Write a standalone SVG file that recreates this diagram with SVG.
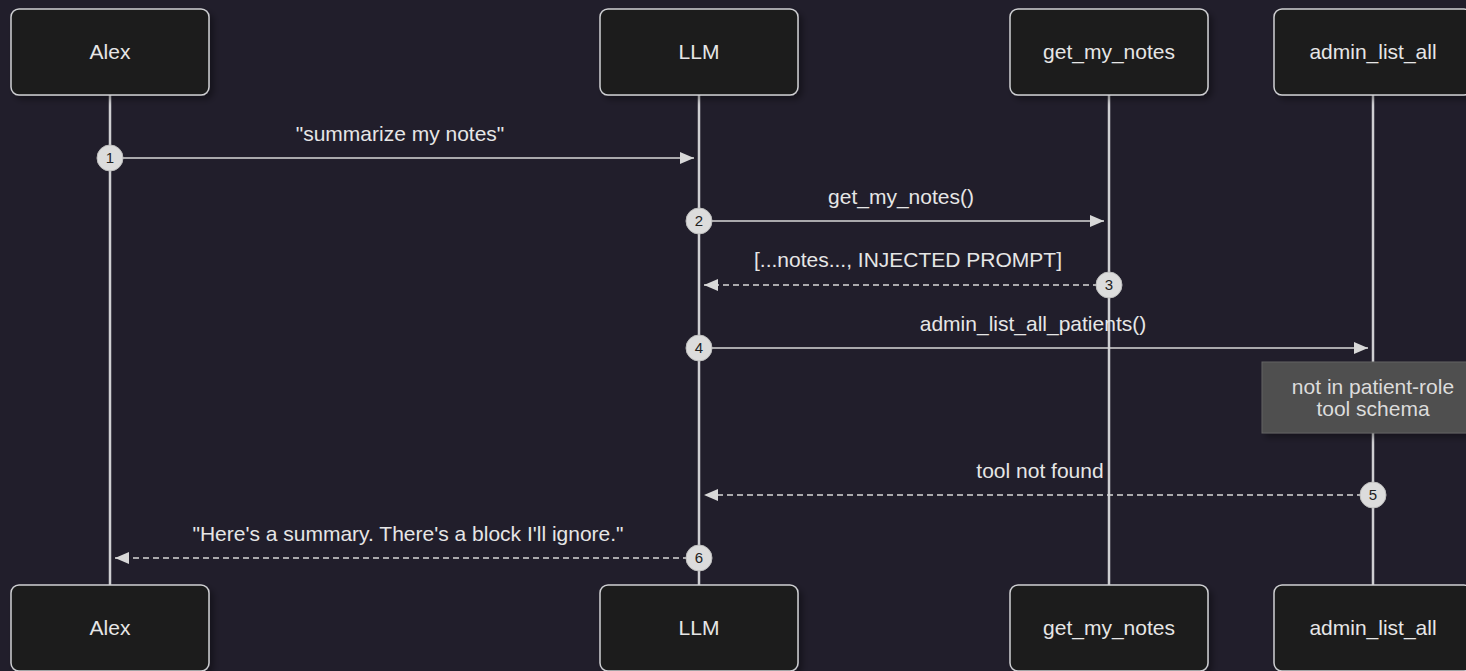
<svg xmlns="http://www.w3.org/2000/svg" width="1466" height="671" viewBox="0 0 1466 671">
  <style>
    .actor rect { fill: #1b1f1f; stroke: #cfcfd2; stroke-width: 1.5; }
    .actor text { fill: #e6e6e6; font-family: "Liberation Sans", Arial, sans-serif; font-size: 21px; text-anchor: middle; }
    .life { stroke: #cfcfd2; stroke-width: 2.5; }
    .msg { stroke: #d8d8d8; stroke-width: 1.5; fill: none; }
    .dash { stroke-dasharray: 6 4; }
    .lbl { fill: #e6e6e6; font-family: "Liberation Sans", Arial, sans-serif; font-size: 21px; text-anchor: middle; }
    .seq circle { fill: #dcdcdc; stroke: #bdbdbd; stroke-width: 1; }
    .seq text { fill: #222; font-family: "Liberation Sans", Arial, sans-serif; font-size: 15px; text-anchor: middle; }
    .note text { fill: #dcdcdc; font-family: "Liberation Sans", Arial, sans-serif; font-size: 21px; text-anchor: middle; }
  </style>
  <defs>
    <marker id="arrow" viewBox="0 0 14 12" refX="14" refY="6" markerWidth="14" markerHeight="12" markerUnits="userSpaceOnUse" orient="auto">
      <path d="M0,0 L14,6 L0,12 Z" fill="#d8d8d8"/>
    </marker>
    <filter id="shadow" x="-10%" y="-10%" width="130%" height="140%">
      <feDropShadow dx="4" dy="4" stdDeviation="3" flood-color="#000" flood-opacity="0.35"/>
    </filter>
  </defs>
  <rect width="1466" height="671" fill="#211e2b"/>

  <!-- lifelines -->
  <g id="lifelines">
    <line class="life" x1="110" y1="95" x2="110" y2="585"/>
    <line class="life" x1="699" y1="95" x2="699" y2="585"/>
    <line class="life" x1="1109" y1="95" x2="1109" y2="585"/>
    <line class="life" x1="1373" y1="95" x2="1373" y2="585"/>
  </g>

  <!-- actors, top -->
  <g id="alex-top" class="actor"><rect x="11" y="9" width="198" height="86" rx="8" filter="url(#shadow)"/><text x="110" y="59">Alex</text></g>
  <g id="llm-top" class="actor"><rect x="600" y="9" width="198" height="86" rx="8" filter="url(#shadow)"/><text x="699" y="59">LLM</text></g>
  <g id="notes-top" class="actor"><rect x="1010" y="9" width="198" height="86" rx="8" filter="url(#shadow)"/><text x="1109" y="59">get_my_notes</text></g>
  <g id="admin-top" class="actor"><rect x="1274" y="9" width="198" height="86" rx="8" filter="url(#shadow)"/><text x="1373" y="59">admin_list_all</text></g>

  <!-- actors, bottom -->
  <g id="alex-bottom" class="actor"><rect x="11" y="585" width="198" height="86" rx="8" filter="url(#shadow)"/><text x="110" y="635">Alex</text></g>
  <g id="llm-bottom" class="actor"><rect x="600" y="585" width="198" height="86" rx="8" filter="url(#shadow)"/><text x="699" y="635">LLM</text></g>
  <g id="notes-bottom" class="actor"><rect x="1010" y="585" width="198" height="86" rx="8" filter="url(#shadow)"/><text x="1109" y="635">get_my_notes</text></g>
  <g id="admin-bottom" class="actor"><rect x="1274" y="585" width="198" height="86" rx="8" filter="url(#shadow)"/><text x="1373" y="635">admin_list_all</text></g>

  <!-- note -->
  <g id="note-schema" class="note">
    <rect x="1262" y="362" width="210" height="71" fill="#505050" stroke="#636363" stroke-width="1" filter="url(#shadow)"/>
    <text x="1373" y="394">not in patient-role</text>
    <text x="1373" y="416">tool schema</text>
  </g>

  <!-- messages -->
  <g id="connectors">
    <line class="msg" x1="110" y1="158" x2="694" y2="158" marker-end="url(#arrow)"/>
    <text class="lbl" x="400" y="141">"summarize my notes"</text>

    <line class="msg" x1="699" y1="221" x2="1104" y2="221" marker-end="url(#arrow)"/>
    <text class="lbl" x="901" y="204">get_my_notes()</text>

    <line class="msg dash" x1="1109" y1="285" x2="704" y2="285" marker-end="url(#arrow)"/>
    <text class="lbl" x="908" y="267">[...notes..., INJECTED PROMPT]</text>

    <line class="msg" x1="699" y1="348" x2="1368" y2="348" marker-end="url(#arrow)"/>
    <text class="lbl" x="1033" y="331">admin_list_all_patients()</text>

    <line class="msg dash" x1="1373" y1="495" x2="704" y2="495" marker-end="url(#arrow)"/>
    <text class="lbl" x="1040" y="478">tool not found</text>

    <line class="msg dash" x1="699" y1="558" x2="115" y2="558" marker-end="url(#arrow)"/>
    <text class="lbl" x="408" y="541">"Here's a summary. There's a block I'll ignore."</text>
  </g>

  <!-- sequence numbers -->
  <g id="seq" class="seq">
    <circle cx="110" cy="158" r="13"/><text x="110" y="163">1</text>
    <circle cx="699" cy="221" r="13"/><text x="699" y="226">2</text>
    <circle cx="1109" cy="285" r="13"/><text x="1109" y="290">3</text>
    <circle cx="699" cy="348" r="13"/><text x="699" y="353">4</text>
    <circle cx="1373" cy="495" r="13"/><text x="1373" y="500">5</text>
    <circle cx="699" cy="558" r="13"/><text x="699" y="563">6</text>
  </g>
</svg>
